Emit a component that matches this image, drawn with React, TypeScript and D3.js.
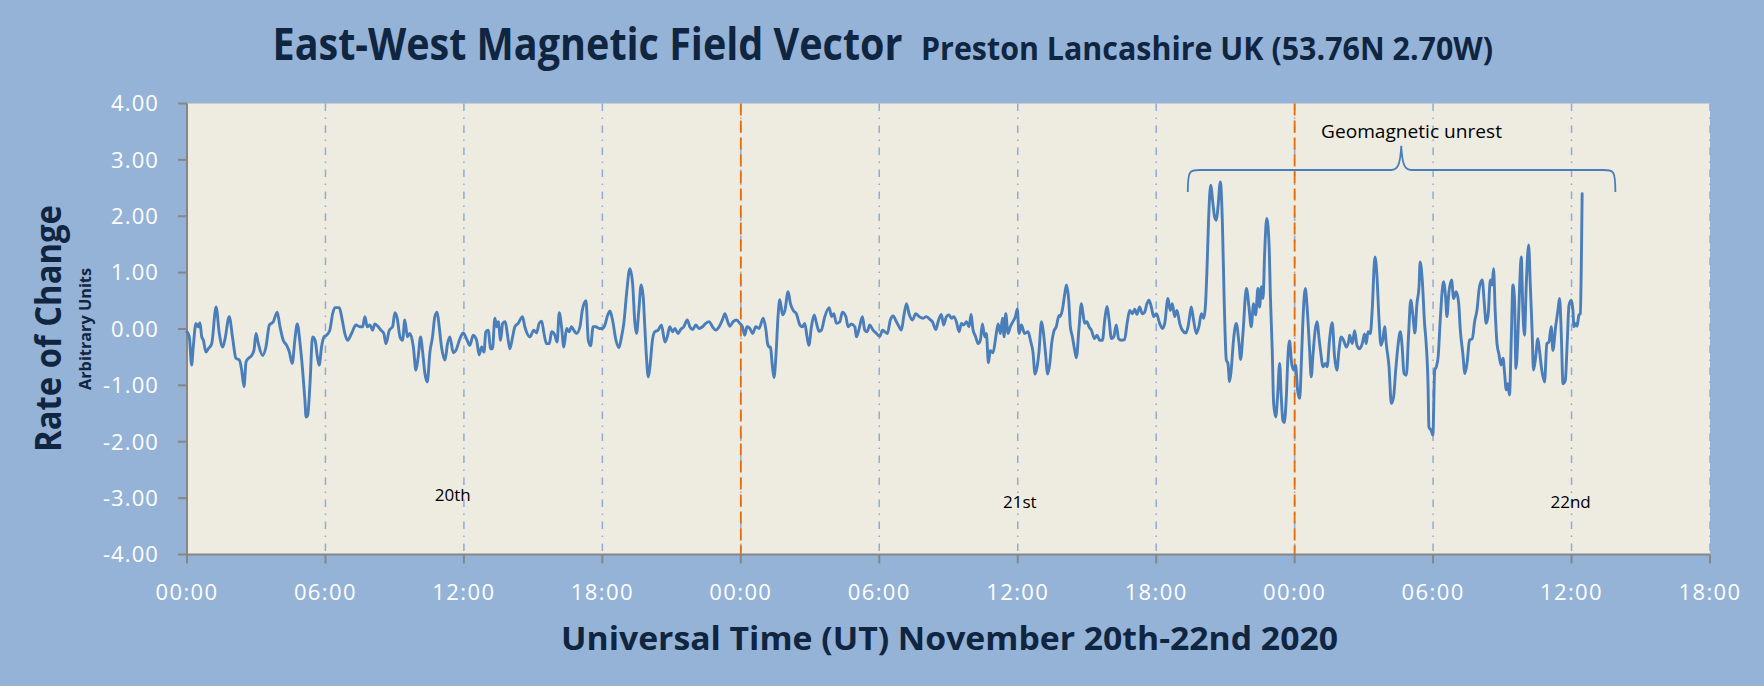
import React from "react";
import * as d3 from "d3";

// ---- data: [hours since 00:00 UT Nov 20, rate of change (arbitrary units)]
const nov20: [number, number][] = [
  [0,-0.05],[0.10,-0.14],[0.20,-0.64],[0.27,-0.32],[0.39,0.10],[0.49,0.04],[0.56,0.11],[0.64,-0.14],[0.71,-0.20],[0.82,-0.41],[0.92,-0.35],[1.07,-0.26],[1.26,0.39],[1.40,-0.08],[1.55,-0.32],[1.65,-0.17],[1.83,0.22],[1.98,-0.17],[2.12,-0.52],[2.27,-0.55],[2.37,-0.73],[2.47,-1.02],[2.56,-0.58],[2.66,-0.52],[2.80,-0.47],[2.90,-0.38],[2.99,-0.08],[3.09,-0.26],[3.28,-0.47],[3.42,-0.32],[3.57,0.07],[3.74,0.13],[3.91,0.30],[4.03,0.04],[4.17,-0.20],[4.32,-0.29],[4.43,-0.40],[4.56,-0.61],[4.68,-0.17],[4.78,0.09],[4.90,-0.26],[5.01,-0.73],[5.11,-1.26],[5.16,-1.56],[5.23,-1.53],[5.33,-0.97],[5.44,-0.14],[5.55,-0.20],[5.65,-0.49],[5.73,-0.64],[5.83,-0.32],[5.94,-0.14],[6.05,-0.11],[6.19,-0.02],[6.31,0.27],[6.41,0.38],[6.60,0.38],[6.70,0.22],[6.84,-0.08],[6.96,-0.20],[7.13,-0.08],[7.32,0.07],[7.49,0.04],[7.61,0.04],[7.71,0.22],[7.81,0.04],[7.93,0.07],[8.04,-0.02],[8.14,0.09],[8.29,0.04],[8.40,-0.02],[8.53,-0.08],[8.62,-0.26],[8.77,-0.02],[8.91,0.04],[9.01,0.29],[9.11,0.19],[9.23,-0.14],[9.34,-0.20],[9.44,0.16],[9.55,-0.14],[9.66,-0.08],[9.81,-0.32],[9.92,-0.73],[10.02,-0.49],[10.12,-0.14],[10.21,-0.40],[10.31,-0.79],[10.41,-0.94],[10.53,-0.40],[10.64,-0.14],[10.74,0.22],[10.84,0.30],[10.93,0.04],[11.03,-0.32],[11.18,-0.55],[11.29,-0.26],[11.39,-0.14],[11.54,-0.42],[11.65,-0.38],[11.83,-0.17],[11.97,-0.07],[12.14,-0.20],[12.26,-0.29],[12.40,-0.11],[12.55,-0.20],[12.66,-0.46],
  [12.77,-0.32],[12.87,-0.41],[12.95,-0.05],[13.05,-0.02],[13.16,-0.35],[13.24,-0.35],[13.34,0.19],[13.42,0.04],[13.49,0.13],[13.59,-0.20],[13.68,0.10],[13.79,0.13],[13.88,-0.08],[13.99,-0.35],[14.11,-0.14],[14.21,0.04],[14.35,0.10],[14.54,0.22],[14.64,0.04],[14.74,-0.08],[14.86,-0.14],[15.03,-0.02],[15.15,-0.07],[15.26,0.10],[15.37,0.14],[15.47,-0.08],[15.58,-0.26],[15.70,-0.26],[15.80,-0.05],[15.94,-0.11],[16.04,-0.23],[16.13,0.29],[16.23,0.04],[16.33,-0.32],[16.45,0.01],[16.56,-0.05],[16.66,0.04],[16.76,-0.02],[16.88,-0.08],[17.03,0.04],[17.13,0.33],[17.29,0.50],[17.39,-0.20],[17.49,-0.30],[17.60,0.04],[17.72,0.04],[17.86,0.01],[18.01,0.01],[18.11,0.07],[18.21,0.22],[18.33,0.32],[18.44,0.16],[18.59,-0.20],[18.72,-0.33],[18.83,-0.14],[18.93,0.10],[19.05,0.63],[19.19,1.07],[19.31,0.81],[19.41,0.10],[19.48,-0.08],[19.58,0.33],[19.68,0.78],[19.77,0.57],[19.84,0.04],[19.91,-0.49],[19.99,-0.85],[20.06,-0.67],[20.17,-0.20],[20.27,-0.05],[20.42,-0.02],[20.56,0.07],[20.71,-0.23],[20.81,-0.14],[20.92,0.04],[21.04,-0.05],[21.14,0.01],[21.28,-0.08],[21.39,-0.01],[21.53,0.04],[21.68,0.16],[21.79,0.04],[21.91,-0.01],[22.05,0.07],[22.19,0.01],[22.34,0.04],[22.48,0.10],[22.63,0.13],[22.77,0.04],[22.92,-0.02],[23.06,0.04],[23.21,0.17],[23.31,0.27],[23.41,0.16],[23.52,0.05],[23.67,0.13],[23.81,0.16],[23.96,0.10],
];

const nov21: [number, number][] = [
  [24.07,0.04],[24.17,-0.11],[24.27,0.04],[24.39,0.01],[24.51,-0.08],[24.65,0.04],[24.79,0.01],[24.97,0.19],[25.09,-0.02],[25.16,-0.26],[25.23,-0.32],
  [25.28,-0.32],[25.37,-0.67],[25.44,-0.86],[25.52,-0.49],[25.62,0.27],[25.69,0.52],[25.81,0.25],[25.91,0.33],[26.05,0.66],[26.15,0.45],[26.27,0.33],[26.41,0.27],[26.56,0.07],[26.67,0.04],[26.77,0.10],[26.87,-0.14],[26.95,-0.29],[27.06,0.04],[27.18,0.25],[27.28,0.10],[27.39,-0.04],[27.49,-0.02],[27.64,0.22],[27.83,0.38],[27.93,0.22],[28.03,0.27],[28.14,0.10],[28.29,0.13],[28.40,0.30],[28.55,0.22],[28.65,0.04],[28.79,0.09],[28.94,0.04],[29.01,-0.14],[29.13,0.01],[29.27,0.22],[29.37,-0.02],[29.47,-0.05],[29.59,0.07],[29.73,-0.02],[29.88,-0.08],[30.02,-0.13],[30.14,-0.02],[30.24,-0.05],[30.35,-0.08],[30.48,0.16],[30.60,0.23],[30.74,0.13],[30.86,0.04],[30.96,-0.02],[31.06,0.22],[31.18,0.45],[31.29,0.27],[31.44,0.16],[31.58,0.27],[31.73,0.22],[31.90,0.19],[32.04,0.22],[32.19,0.17],[32.30,0.13],[32.45,-0.01],[32.55,0.13],[32.69,0.26],[32.79,0.07],[32.91,0.22],[33.02,0.25],[33.13,0.19],[33.23,0.22],[33.34,0.13],[33.46,-0.05],[33.56,0.10],[33.66,0.07],[33.78,0.13],[33.89,0.04],[33.98,0.26],[34.06,-0.01],[34.18,-0.14],[34.28,-0.26],[34.38,-0.20],[34.47,0.09],[34.57,-0.14],[34.64,-0.08],[34.73,-0.60],[34.81,-0.38],[34.93,-0.42],[35.05,-0.14],[35.15,0.09],[35.25,-0.08],[35.34,0.19],[35.41,-0.14],[35.48,0.27],[35.58,-0.08],[35.68,0.04],[35.79,0.13],[35.90,0.22],[35.98,0.35],[36.06,-0.08],[36.16,0.07],[36.30,-0.08],[36.45,-0.05],[36.55,-0.20],[36.66,-0.41],[36.75,-0.80],[36.84,-0.67],[36.92,-0.41],[37.03,0.13],[37.10,-0.02],[37.20,-0.41],[37.30,-0.80],[37.39,-0.61],[37.47,-0.26],[37.56,-0.05],[37.67,0.04],[37.79,0.24],
  [37.82,0.22],[37.93,0.33],[38.04,0.63],[38.11,0.78],[38.21,0.51],[38.28,0.04],[38.37,-0.14],[38.47,-0.38],[38.54,-0.51],[38.66,0.04],[38.76,0.45],[38.83,0.27],[38.90,0.10],[39.00,0.13],[39.09,0.04],[39.19,-0.02],[39.33,-0.17],[39.44,-0.11],[39.55,-0.20],[39.67,-0.20],[39.77,0.16],[39.87,0.40],[39.96,0.16],[40.06,-0.17],[40.16,-0.14],[40.27,0.07],[40.37,-0.17],[40.49,-0.20],[40.63,-0.19],[40.74,0.10],[40.85,0.33],[40.97,0.27],[41.07,0.35],[41.17,0.26],[41.28,0.39],[41.40,0.27],[41.50,0.30],[41.60,0.45],[41.69,0.51],[41.79,0.39],[41.89,0.22],[42.01,0.27],[42.15,0.10],[42.27,0.01],[42.37,0.10],[42.51,0.54],[42.61,0.33],[42.70,0.45],[42.80,0.22],[42.90,0.33],[43.02,0.10],[43.13,-0.02],[43.28,-0.07],[43.38,0.04],[43.45,0.22],[43.52,0.39],[43.62,0.16],[43.74,-0.08],[43.85,0.04],[43.96,0.27],[44.06,0.19],[44.14,0.45],[44.20,1.04],[44.27,1.93],[44.36,2.55],[44.46,2.22],[44.53,1.99],[44.61,1.93],[44.68,2.17],[44.78,2.61],[44.87,1.87],[44.95,0.45],[45.04,-0.55],[45.11,-0.61],[45.18,-0.93],[45.25,-0.73],[45.35,-0.20],[45.47,0.10],[45.59,-0.26],[45.66,-0.54],[45.76,-0.08],[45.91,0.72],[46.02,0.39],[46.12,0.04],[46.22,0.45],[46.31,0.25],[46.41,0.72],[46.48,0.39],[46.56,0.75],[46.63,0.54],[46.70,1.34],[46.79,1.96],[46.89,1.52],[46.95,0.57],[47.03,-0.38],[47.09,-1.32],[47.18,-1.56],[47.26,-1.20],[47.35,-0.61],[47.42,-1.20],[47.49,-1.62],[47.55,-1.66],[47.64,-1.20],[47.71,-0.49],[47.78,-0.21],[47.87,-0.61],[47.96,-0.73],
];

const nov22: [number, number][] = [
  [48.04,-0.64],[48.13,-1.09],[48.22,-1.23],[48.29,-0.61],[48.36,0.16],[48.46,0.72],[48.55,0.33],[48.65,-0.38],[48.72,-0.85],[48.79,-0.49],[48.89,-0.02],[48.98,0.13],[49.05,-0.14],[49.12,-0.38],[49.23,-0.67],[49.33,-0.61],[49.41,-0.67],[49.51,-0.20],[49.63,0.11],[49.73,-0.49],[49.83,-0.73],[49.92,-0.38],[50.02,-0.14],[50.12,-0.20],[50.24,-0.32],[50.35,-0.20],
  [50.38,-0.11],[50.50,-0.26],[50.60,-0.03],[50.70,-0.29],[50.82,-0.35],[50.93,-0.26],[51.03,-0.09],[51.10,-0.26],[51.18,-0.05],[51.28,-0.08],[51.36,0.33],[51.48,1.28],[51.57,0.92],[51.65,0.22],[51.74,-0.29],[51.83,-0.17],[51.90,0.04],[51.97,-0.26],[52.09,-0.67],[52.19,-1.32],[52.29,-1.20],[52.38,-0.73],[52.48,-0.29],[52.58,-0.05],[52.66,-0.32],[52.74,-0.79],[52.84,-0.82],[52.94,-0.08],[53.03,0.51],[53.13,0.22],[53.21,-0.07],[53.30,0.45],[53.39,0.75],[53.44,1.19],[53.53,0.87],[53.63,0.10],[53.70,-0.26],[53.78,-0.97],[53.82,-1.74],[53.92,-1.80],[53.99,-1.88],[54.07,-0.73],[54.14,-0.67],[54.22,-0.49],[54.31,0.16],[54.45,0.84],[54.54,0.57],[54.60,0.22],[54.68,0.63],[54.80,0.87],[54.89,0.54],[55.00,0.66],[55.11,0.45],[55.18,-0.02],[55.29,-0.44],[55.38,-0.79],[55.47,-0.61],[55.58,-0.20],[55.70,-0.17],[55.80,0.13],[55.90,0.33],[56.01,0.75],[56.13,0.87],[56.22,0.45],[56.30,0.10],[56.39,0.27],[56.48,0.87],[56.56,0.78],[56.62,1.07],[56.69,0.33],[56.77,-0.26],[56.85,-0.44],[56.94,-0.64],[57.03,-0.52],[57.10,-0.79],[57.17,-1.08],[57.24,-0.97],[57.31,-1.17],[57.39,-0.14],[57.46,0.78],[57.53,0.51],[57.59,-0.70],[57.68,-0.08],[57.75,0.75],[57.82,1.28],[57.89,0.33],[57.96,-0.11],[58.04,0.81],[58.14,1.49],[58.21,0.81],[58.29,-0.02],[58.35,-0.73],[58.44,-0.52],[58.54,-0.17],[58.61,-0.38],[58.71,-0.73],[58.83,-0.94],[58.93,-0.26],[59.02,-0.23],[59.12,0.04],[59.19,-0.38],[59.31,0.04],[59.41,0.33],[59.48,0.54],[59.55,-0.02],[59.63,-0.97],[59.73,-0.91],[59.81,-0.26],[59.89,0.42],[59.99,0.51],[60.06,0.33],[60.10,0.04],[60.18,0.10],[60.24,0.05],[60.32,0.25],[60.38,0.27],[60.42,1.04],[60.46,2.40],
];

const yTicks = [-4, -3, -2, -1, 0, 1, 2, 3, 4];
const xTicks = [0, 6, 12, 18, 24, 30, 36, 42, 48, 54, 60, 66];
const xTickLabels = ["00:00", "06:00", "12:00", "18:00", "00:00", "06:00", "12:00", "18:00", "00:00", "06:00", "12:00", "18:00"];
const dayBoundaries = [24, 48];
const dayLabels: { text: string; h: number; v: number }[] = [
  { text: "20th", h: 11.52, v: -3.05 },
  { text: "21st", h: 36.09, v: -3.17 },
  { text: "22nd", h: 59.96, v: -3.18 },
];
// brace annotation (in data units)
const brace = { h0: 43.37, hMid: 52.62, h1: 61.9, vEnd: 2.43, vBar: 2.82, vTip: 3.25 };

const W = 1764, H = 686;
const L = 187, R = 1710, T = 103.5, B = 554.5;
const FONT = "'Open Sans', 'Noto Sans', sans-serif";
const NAVY = "#10253f";

export default function App() {
  const x = d3.scaleLinear().domain([0, 66]).range([L, R]);
  const y = d3.scaleLinear().domain([-4, 4]).range([B, T]);
  const data = [...nov20, ...nov21, ...nov22];
  const line = d3.line<[number, number]>()
    .x(d => x(d[0]))
    .y(d => y(d[1]))
    .curve(d3.curveMonotoneX);

  const bx0 = x(brace.h0), bxm = x(brace.hMid), bx1 = x(brace.h1);
  const byE = y(brace.vEnd), byB = y(brace.vBar), byT = y(brace.vTip);
  const bracePath = `M${bx0},${byE} C${bx0},${byB} ${bx0+2},${byB} ${bx0+12},${byB} L${bxm-10},${byB} C${bxm-4},${byB} ${bxm-1},${byB-4} ${bxm},${byT} C${bxm+1},${byB-4} ${bxm+4},${byB} ${bxm+10},${byB} L${bx1-12},${byB} C${bx1-2},${byB} ${bx1},${byB} ${bx1},${byE}`;

  return (
    <svg width={W} height={H} style={{ position: "absolute", left: 0, top: 0, display: "block" }} fontFamily={FONT}>
      <rect x={0} y={0} width={W} height={H} fill="#95b3d7" />
      <rect x={L} y={T} width={R - L} height={B - T} fill="#eeece1" />

      {/* vertical gridlines */}
      {xTicks.slice(1).map(t => (
        <line key={"g" + t} x1={x(t)} x2={x(t)} y1={T} y2={B} stroke="#8eaadb" strokeWidth={1.5} strokeDasharray="7.5,6.5,1.5,6.5" />
      ))}
      {dayBoundaries.map(t => (
        <line key={"d" + t} x1={x(t)} x2={x(t)} y1={T} y2={B} stroke="#e46c0a" strokeWidth={1.8} strokeDasharray="12,5" />
      ))}

      {/* axes */}
      <line x1={L} x2={L} y1={T} y2={B} stroke="#868686" strokeWidth={2} />
      <line x1={L} x2={R} y1={B} y2={B} stroke="#868686" strokeWidth={2} />
      {yTicks.map(t => (
        <g key={"yt" + t}>
          <line x1={L - 9} x2={L} y1={y(t)} y2={y(t)} stroke="#868686" strokeWidth={2} />
          <text x={159} y={y(t) + 7.8} textAnchor="end" fill="#ffffff" fontSize={22} letterSpacing={1.1}>
            {t.toFixed(2)}
          </text>
        </g>
      ))}
      {xTicks.map((t, i) => (
        <g key={"xt" + t}>
          <line x1={x(t)} x2={x(t)} y1={B} y2={B + 9} stroke="#868686" strokeWidth={2} />
          <text x={x(t)} y={600} textAnchor="middle" fill="#ffffff" fontSize={22} letterSpacing={1.4}>
            {xTickLabels[i]}
          </text>
        </g>
      ))}

      {/* data */}
      <path d={line(data) || ""} fill="none" stroke="#4a7ebb" strokeWidth={2.9} strokeLinejoin="round" strokeLinecap="round" />

      {/* annotation */}
      <path d={bracePath} fill="none" stroke="#4a7ebb" strokeWidth={1.8} />
      <text x={1411.5} y={138} textAnchor="middle" fontSize={19} fill="#000" textLength={181} lengthAdjust="spacingAndGlyphs">Geomagnetic unrest</text>

      {dayLabels.map(d => (
        <text key={d.text} x={x(d.h)} y={y(d.v)} textAnchor="middle" fontSize={17} fill="#000">{d.text}</text>
      ))}

      {/* titles */}
      <text x={272.5} y={60} fontSize={44} fontWeight="bold" fill={NAVY} textLength={630} lengthAdjust="spacingAndGlyphs">East-West Magnetic Field Vector</text>
      <text x={921} y={60} fontSize={33} fontWeight="bold" fill={NAVY} textLength={572} lengthAdjust="spacingAndGlyphs">Preston Lancashire UK (53.76N 2.70W)</text>
      <text x={949.5} y={650} textAnchor="middle" fontSize={33} fontWeight="bold" fill={NAVY} textLength={777} lengthAdjust="spacingAndGlyphs">Universal Time (UT) November 20th-22nd 2020</text>
      <text transform="translate(61,328.5) rotate(-90)" textAnchor="middle" fontSize={35} fontWeight="bold" fill={NAVY} textLength={247} lengthAdjust="spacingAndGlyphs">Rate of Change</text>
      <text transform="translate(91,329) rotate(-90)" textAnchor="middle" fontSize={16} fontWeight="bold" fill={NAVY} textLength={122} lengthAdjust="spacingAndGlyphs">Arbitrary Units</text>
    </svg>
  );
}
